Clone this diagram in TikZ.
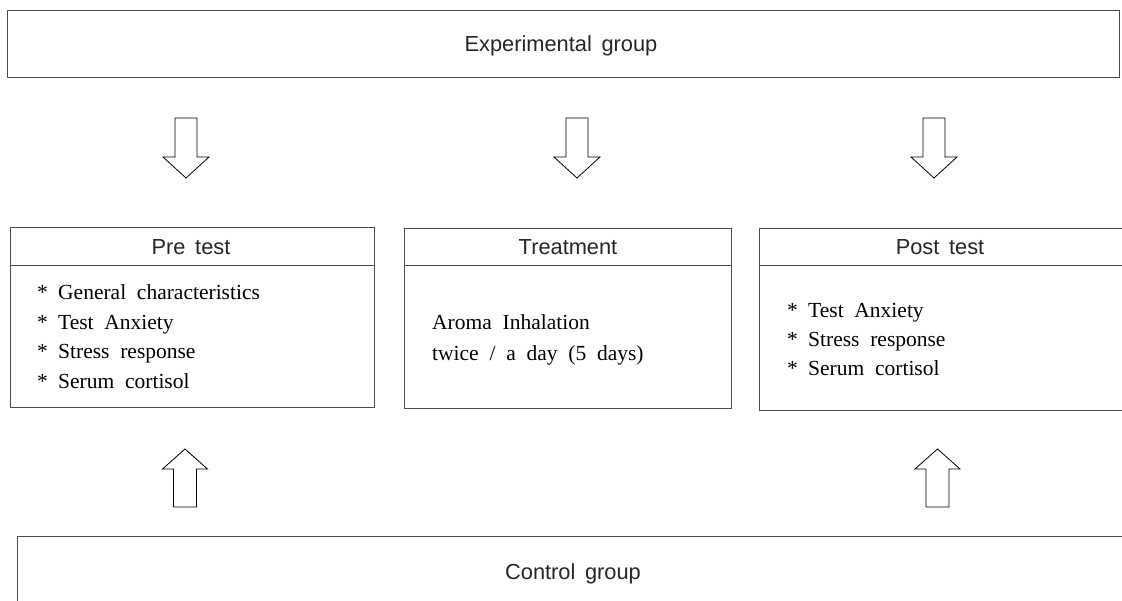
\documentclass[tikz,border=0pt]{standalone}
\usepackage{fontspec}
\setmainfont{Liberation Serif}[WordSpace=2.0]
\newfontfamily\hdfont{Liberation Sans}[WordSpace=1.6]
\begin{document}
\begin{tikzpicture}[x=1pt,y=-1pt,
  box/.style={draw=black!70, line width=1pt, rectangle, inner sep=0pt, anchor=north west},
  sepline/.style={draw=black!70, line width=1pt},
  hd/.style={font=\hdfont\fontsize{21.8}{26}\selectfont, text=black!85, inner sep=0pt, anchor=base},
  item/.style={font=\fontsize{21.5}{26}\selectfont, anchor=base west, inner sep=0pt},
  blk/.style={draw=black, line width=0.8pt, fill=white, line join=miter},
  downarr/.pic={\draw[blk] (-11,0) -- (11,0) -- (11,39) -- (23,39) -- (0,60) -- (-23,39) -- (-11,39) -- cycle;},
  uparr/.pic={\draw[blk] (0,0) -- (22.5,20) -- (11.5,20) -- (11.5,58) -- (-11.5,58) -- (-11.5,20) -- (-22.5,20) -- cycle;}]
\useasboundingbox (0,0) rectangle (1122,601);
\fill[white] (0,0) rectangle (1122,601);
\clip (0,0) rectangle (1122,601);

% boxes
\node[box, minimum width=1112pt, minimum height=67pt] (exp) at (7,10) {};
\node[box, minimum width=364.3pt, minimum height=179.7pt] (pre) at (9.7,227.3) {};
\node[box, minimum width=327pt, minimum height=179.7pt] (trt) at (404,228.3) {};
\node[box, minimum width=370pt, minimum height=182pt] (post) at (758.7,228) {};
\node[box, minimum width=1120pt, minimum height=80pt] (ctl) at (16.7,536) {};

% header separators
\draw[sepline] (pre.west |- 0,265.3) -- (pre.east |- 0,265.3);
\draw[sepline] (trt.west |- 0,266) -- (trt.east |- 0,266);
\draw[sepline] (post.west |- 0,266) -- (post.east |- 0,266);

% titles
\node[hd] (exptxt) at (561,52) {Experimental group};
\node[hd] (pretxt) at (191,255) {Pre test};
\node[hd] (trttxt) at (568,255) {Treatment};
\node[hd] (posttxt) at (940,255) {Post test};
\node[hd] (ctltxt) at (573,579) {Control group};

% pre test items
\node[item] (p1) at (37,300) {\makebox[21pt][l]{*}General characteristics};
\node[item] (p2) at (37,329.3) {\makebox[21pt][l]{*}Test Anxiety};
\node[item] (p3) at (37,358.3) {\makebox[21pt][l]{*}Stress response};
\node[item] (p4) at (37,388.3) {\makebox[21pt][l]{*}Serum cortisol};

% treatment
\node[item] (t1) at (432,330) {Aroma Inhalation};
\node[item] (t2) at (432,360.7) {twice / a day (5 days)};

% post test items
\node[item] (q1) at (787,317.3) {\makebox[21pt][l]{*}Test Anxiety};
\node[item] (q2) at (787,346.7) {\makebox[21pt][l]{*}Stress response};
\node[item] (q3) at (787,375.7) {\makebox[21pt][l]{*}Serum cortisol};

% block arrows
\pic at (186,118) {downarr};
\pic at (577,118) {downarr};
\pic at (934,118) {downarr};
\pic at (185,449) {uparr};
\pic at (937.5,449) {uparr};
\end{tikzpicture}
\end{document}
